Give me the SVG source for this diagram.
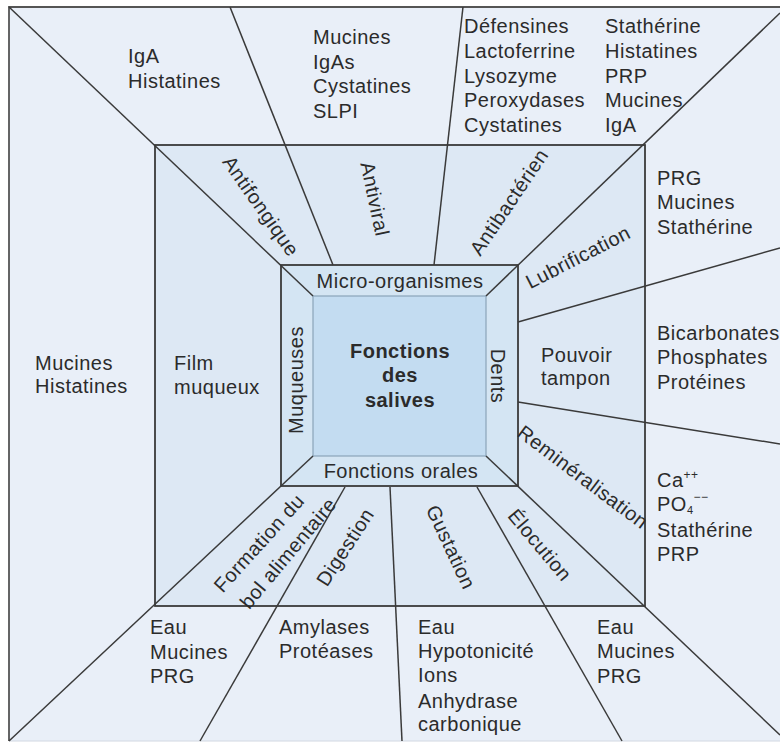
<svg xmlns="http://www.w3.org/2000/svg" width="780" height="742" viewBox="0 0 780 742">
<style>
.t{font-family:"Liberation Sans",Arial,sans-serif;font-size:20px;fill:#2b2b2b;letter-spacing:0.5px}
.c{text-anchor:middle;dominant-baseline:central}
.b{font-weight:bold;text-anchor:middle}
.ln{stroke:#3a3a3a;stroke-width:1.5;fill:none}
.box{stroke:#3a3a3a;stroke-width:1.8}
</style>
<rect x="0" y="0" width="780" height="742" fill="#ffffff"/>
<g id="frame">
<rect x="9" y="7" width="771" height="734" fill="#e9eff8"/>
<path d="M9,741 V7 H780" fill="none" stroke="#555" stroke-width="1.8"/>
<line x1="9" y1="741" x2="780" y2="741" stroke="#d2d8e2" stroke-width="1"/>
</g>
<g id="middle">
<rect x="155" y="145" width="490" height="461" fill="#dde8f4"/>
</g>
<g id="inner">
<rect x="281" y="265" width="237" height="221" fill="#d4e5f3"/>
</g>
<g id="core">
<rect x="313" y="296" width="173" height="160" fill="#c3dcf1" stroke="#8aa4ba" stroke-width="1.2"/>
</g>
<g id="connectors">
<line class="ln" x1="9" y1="7" x2="313" y2="296"/>
<line class="ln" x1="230" y1="7" x2="333" y2="265"/>
<line class="ln" x1="463" y1="7" x2="434" y2="265"/>
<line class="ln" x1="780" y1="13" x2="486" y2="296"/>
<line class="ln" x1="780" y1="248" x2="518" y2="322"/>
<line class="ln" x1="518" y1="402" x2="780" y2="444"/>
<line class="ln" x1="486" y1="456" x2="780" y2="735"/>
<line class="ln" x1="477" y1="487" x2="622" y2="741"/>
<line class="ln" x1="390" y1="487" x2="402" y2="741"/>
<line class="ln" x1="345" y1="487" x2="200" y2="741"/>
<line class="ln" x1="313" y1="456" x2="9" y2="741"/>
</g>
<g id="borders">
<rect x="155" y="145" width="490" height="461" fill="none" class="box"/>
<rect x="281" y="265" width="237" height="221" fill="none" class="box"/>
</g>
<g id="center-node">
<text class="t b" x="400" y="358">Fonctions</text>
<text class="t b" x="400" y="382">des</text>
<text class="t b" x="400" y="407">salives</text>
</g>
<g id="bands">
<text class="t" x="400" y="288" text-anchor="middle">Micro-organismes</text>
<text class="t" x="401" y="478" text-anchor="middle">Fonctions orales</text>
<text class="t c" transform="translate(296,380) rotate(-90)">Muqueuses</text>
<text class="t c" transform="translate(498,376) rotate(90)">Dents</text>
</g>
<g id="functions">
<text class="t c" transform="translate(261,206) rotate(55)">Antifongique</text>
<text class="t c" transform="translate(375,199) rotate(78)">Antiviral</text>
<text class="t c" transform="translate(509,202) rotate(-56)">Antibactérien</text>
<text class="t c" transform="translate(578,257) rotate(-27)">Lubrification</text>
<text class="t" x="541" y="362">Pouvoir</text>
<text class="t" x="541" y="385">tampon</text>
<text class="t c" transform="translate(583,477) rotate(37)">Reminéralisation</text>
<text class="t c" transform="translate(540,545) rotate(50)">Élocution</text>
<text class="t c" transform="translate(451,547) rotate(65)">Gustation</text>
<text class="t c" transform="translate(345,547) rotate(-57)">Digestion</text>
<text class="t c" transform="translate(259,543) rotate(-48)">Formation du</text>
<text class="t c" transform="translate(288,553) rotate(-50)">bol alimentaire</text>
<text class="t" x="174" y="370">Film</text>
<text class="t" x="174" y="394">muqueux</text>
</g>
<g id="components">
<text class="t" x="128" y="63">IgA</text>
<text class="t" x="128" y="88">Histatines</text>
<text class="t" x="313" y="44">Mucines</text>
<text class="t" x="313" y="68.5">IgAs</text>
<text class="t" x="313" y="93">Cystatines</text>
<text class="t" x="313" y="117.5">SLPI</text>
<text class="t" x="464" y="33">Défensines</text>
<text class="t" x="464" y="58">Lactoferrine</text>
<text class="t" x="464" y="82.5">Lysozyme</text>
<text class="t" x="464" y="107">Peroxydases</text>
<text class="t" x="464" y="131.5">Cystatines</text>
<text class="t" x="605" y="33">Stathérine</text>
<text class="t" x="605" y="58">Histatines</text>
<text class="t" x="605" y="82.5">PRP</text>
<text class="t" x="605" y="107">Mucines</text>
<text class="t" x="605" y="131.5">IgA</text>
<text class="t" x="657" y="185">PRG</text>
<text class="t" x="657" y="209">Mucines</text>
<text class="t" x="657" y="234">Stathérine</text>
<text class="t" x="657" y="340">Bicarbonates</text>
<text class="t" x="657" y="364">Phosphates</text>
<text class="t" x="657" y="389">Protéines</text>
<text class="t" x="657" y="487">Ca<tspan font-size="12" dy="-8">++</tspan></text>
<text class="t" x="657" y="511">PO<tspan font-size="11" dy="3">4</tspan><tspan font-size="12" dy="-13">−−</tspan></text>
<text class="t" x="657" y="537">Stathérine</text>
<text class="t" x="657" y="561">PRP</text>
<text class="t" x="35" y="370">Mucines</text>
<text class="t" x="35" y="393">Histatines</text>
<text class="t" x="150" y="634">Eau</text>
<text class="t" x="150" y="659">Mucines</text>
<text class="t" x="150" y="683">PRG</text>
<text class="t" x="279" y="634">Amylases</text>
<text class="t" x="279" y="658">Protéases</text>
<text class="t" x="418" y="634">Eau</text>
<text class="t" x="418" y="658">Hypotonicité</text>
<text class="t" x="418" y="682">Ions</text>
<text class="t" x="418" y="708">Anhydrase</text>
<text class="t" x="418" y="731">carbonique</text>
<text class="t" x="597" y="634">Eau</text>
<text class="t" x="597" y="658">Mucines</text>
<text class="t" x="597" y="683">PRG</text>
</g>
</svg>
